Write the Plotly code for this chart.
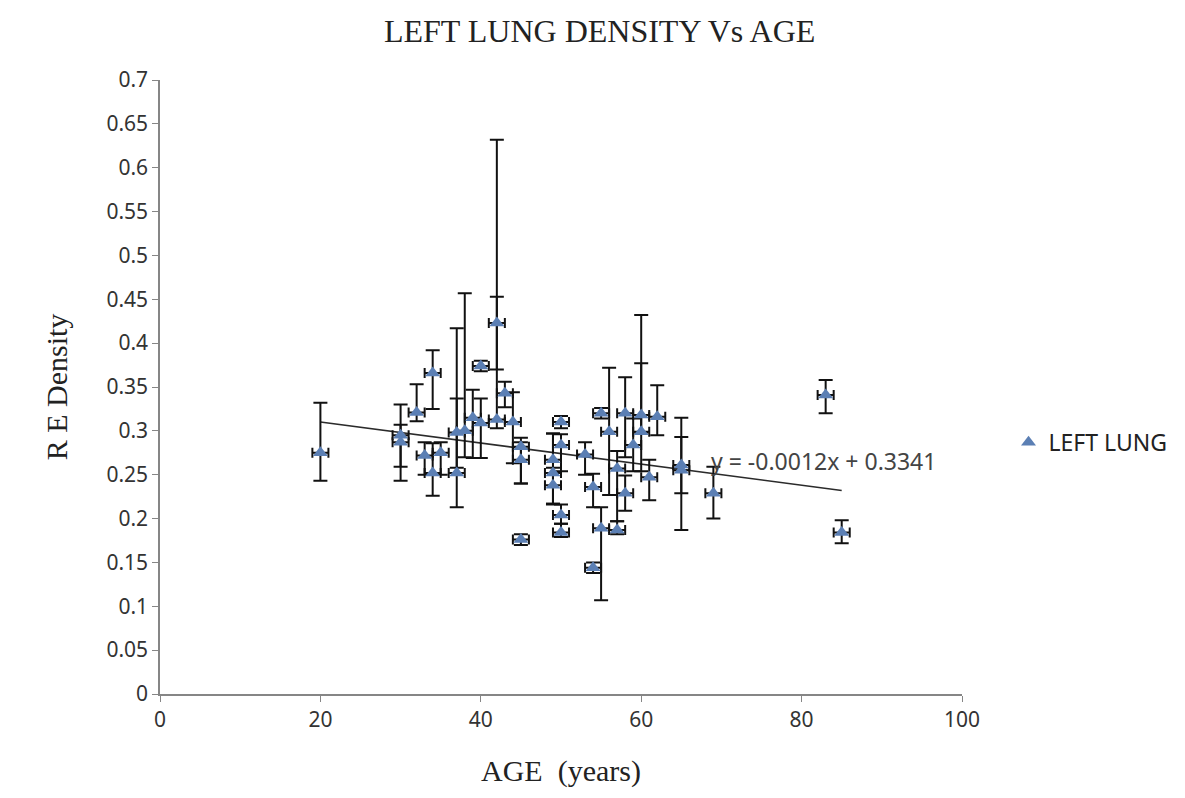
import plotly.graph_objects as go

age = [20, 30, 30, 32, 34, 33, 34, 35, 37, 37, 38, 39, 40, 40, 42, 42, 43, 44, 45, 45, 45,
       49, 49, 49, 50, 50, 50, 50, 53, 54, 54, 55, 55, 56, 57, 57, 58, 58, 59, 60, 60,
       61, 62, 65, 65, 69, 83, 85]
density = [0.275, 0.295, 0.287, 0.321, 0.366, 0.272, 0.252, 0.275, 0.252, 0.298, 0.300,
           0.315, 0.309, 0.374, 0.423, 0.313, 0.343, 0.310, 0.282, 0.267, 0.176,
           0.267, 0.252, 0.238, 0.310, 0.284, 0.204, 0.184, 0.273, 0.236, 0.144, 0.320,
           0.189, 0.299, 0.257, 0.187, 0.320, 0.229, 0.284, 0.318, 0.299,
           0.247, 0.316, 0.261, 0.255, 0.229, 0.341, 0.184]
err_plus = [0.057, 0.035, 0.020, 0.032, 0.026, 0.015, 0.034, 0.012, 0.085, 0.119, 0.157,
            0.032, 0.028, 0.006, 0.209, 0.140, 0.013, 0.034, 0.010, 0.020, 0.006,
            0.030, 0.045, 0.020, 0.007, 0.012, 0.012, 0.010, 0.014, 0.015, 0.006, 0.006,
            0.024, 0.073, 0.020, 0.010, 0.041, 0.020, 0.030, 0.114, 0.078,
            0.020, 0.036, 0.054, 0.038, 0.030, 0.017, 0.014]
err_minus = [0.032, 0.036, 0.044, 0.010, 0.041, 0.022, 0.026, 0.025, 0.039, 0.040, 0.030,
             0.046, 0.040, 0.006, 0.053, 0.010, 0.016, 0.047, 0.042, 0.027, 0.006,
             0.050, 0.035, 0.022, 0.007, 0.030, 0.010, 0.005, 0.023, 0.023, 0.006, 0.006,
             0.082, 0.072, 0.060, 0.005, 0.050, 0.020, 0.030, 0.020, 0.045,
             0.026, 0.021, 0.032, 0.068, 0.029, 0.021, 0.012]
age_err = 1.0

slope = -0.0012
intercept = 0.3341
trend_x = [20, 85]
trend_y = [slope * x + intercept for x in trend_x]

x_ticks = [0, 20, 40, 60, 80, 100]
y_ticks = [0, 0.05, 0.1, 0.15, 0.2, 0.25, 0.3, 0.35, 0.4, 0.45, 0.5, 0.55, 0.6, 0.65, 0.7]

fig = go.Figure()

fig.add_trace(go.Scatter(
    x=trend_x, y=trend_y, mode="lines",
    line=dict(color="#2b2b2b", width=1.6),
    showlegend=False, hoverinfo="skip"))

fig.add_trace(go.Scatter(
    x=age, y=density, mode="markers", name="LEFT LUNG",
    marker=dict(symbol="triangle-up", size=13, color="#5b7fb4"),
    error_y=dict(type="data", symmetric=False, array=err_plus, arrayminus=err_minus,
                 color="#111111", thickness=2, width=7),
    error_x=dict(type="constant", value=age_err, color="#111111", thickness=2, width=5),
))

fig.add_annotation(x=68.4, y=0.266, xref="x", yref="y", text="y = -0.0012x + 0.3341",
                   showarrow=False, xanchor="left", yanchor="middle",
                   font=dict(family="Noto Sans", size=23, color="#444444"))

axis_line = "#868686"
fig.update_layout(
    width=1185, height=798,
    paper_bgcolor="white", plot_bgcolor="white",
    margin=dict(l=160, r=220, t=80, b=104),
    title=dict(text="LEFT LUNG DENSITY Vs AGE", x=0.506, xref="container", xanchor="center",
               y=0.962, yref="container", yanchor="middle",
               font=dict(family="Liberation Serif", size=32, color="#222222")),
    xaxis=dict(range=[0, 100], tickvals=x_ticks, showgrid=False, zeroline=False,
               showline=True, linecolor=axis_line, linewidth=1.5,
               ticks="outside", ticklen=6, tickcolor=axis_line,
               tickfont=dict(family="Noto Sans", size=21, color="#333333"),
               title=dict(text="AGE  (years)", standoff=28,
                          font=dict(family="Liberation Serif", size=30, color="#222222"))),
    yaxis=dict(range=[0, 0.7], tickvals=y_ticks, showgrid=False, zeroline=False,
               showline=True, linecolor=axis_line, linewidth=1.5,
               ticks="outside", ticklen=6, tickcolor=axis_line,
               tickfont=dict(family="Noto Sans", size=21, color="#333333"),
               title=dict(text="R E Density", standoff=30,
                          font=dict(family="Liberation Serif", size=30, color="#222222"))),
    legend=dict(x=1.058, y=0.41, xanchor="left", yanchor="middle",
                font=dict(family="Noto Sans", size=23, color="#222222"),
                bgcolor="rgba(0,0,0,0)"),
)

fig.write_html("out.html")
